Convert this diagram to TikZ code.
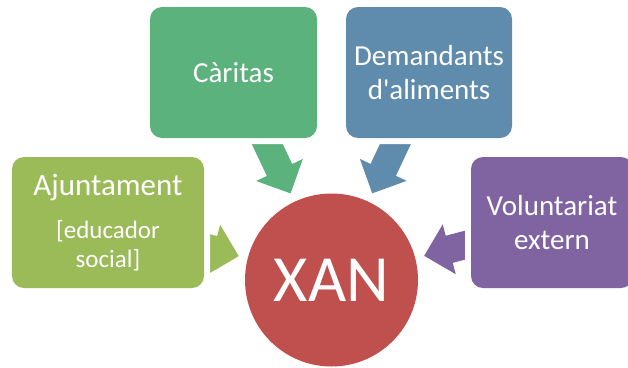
\documentclass[tikz,border=0pt]{standalone}
\usepackage{fontspec}
\setmainfont{Carlito}
\usetikzlibrary{arrows.meta,backgrounds}
\definecolor{mycolor1}{RGB}{155,187,89}
\definecolor{mycolor2}{RGB}{92,178,125}
\definecolor{mycolor3}{RGB}{95,139,172}
\definecolor{mycolor4}{RGB}{128,100,162}
\definecolor{mycolor5}{RGB}{192,80,77}

\begin{document}
\begin{tikzpicture}[x=1bp,y=-1bp,
  box/.style={rounded corners=12bp,preaction={draw=white,line width=12bp},
    text=white,align=center,inner sep=0pt,minimum height=131bp,
    font=\fontsize{29bp}{34bp}\selectfont},
  conn/.style={line width=28bp,-{Triangle[length=26bp,width=50bp]},shorten >=9bp}]

\path[use as bounding box,clip] (0,0) rectangle (628,367);

\node[box,fill=mycolor2,minimum width=167bp,text width=160bp] (caritas) at (233.5,72.5) {Càritas};
\node[box,fill=mycolor3,minimum width=166bp,text width=160bp] (demandants) at (429,72.5) {Demandants\\d\textquotesingle aliments};
\node[box,fill=mycolor1,minimum width=192bp,text width=180bp] (ajuntament) at (108,222.5)
  {{\fontsize{31bp}{37bp}\selectfont Ajuntament\par}\vspace{14bp}%
   {\fontsize{25bp}{29bp}\selectfont [educador\\social]\par}};
\node[box,fill=mycolor4,minimum width=162bp,text width=155bp] (voluntariat) at (552,222.5) {Voluntariat\\extern};
\node[circle,fill=mycolor5,minimum size=173bp,inner sep=0pt,text=white,
  font=\fontsize{66bp}{66bp}\selectfont] (xan) at (331.5,280) {XAN};

\begin{pgfonlayer}{background}
\draw[conn,mycolor2] (caritas) -- (xan);
\draw[conn,mycolor3] (demandants) -- (xan);
\draw[conn,mycolor1] (ajuntament) -- (xan);
\draw[conn,mycolor4] (voluntariat) -- (xan);
\end{pgfonlayer}
\end{tikzpicture}
\end{document}
